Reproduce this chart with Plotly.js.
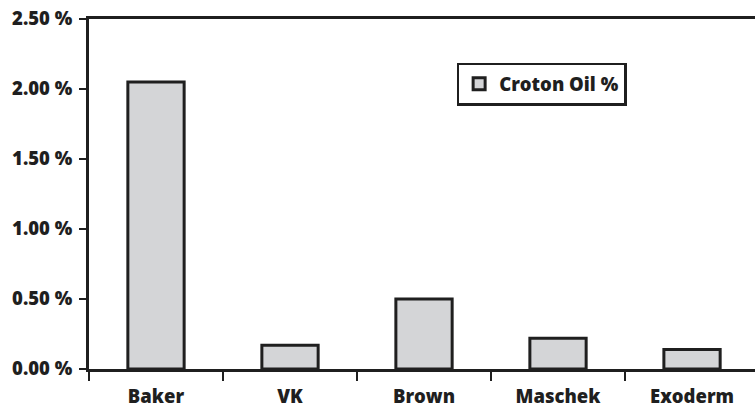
<!DOCTYPE html>
<html><head><meta charset="utf-8">
<script src="https://cdn.plot.ly/plotly-3.0.1.min.js"></script>
<style>html,body{margin:0;padding:0;overflow:hidden;background:#fff}</style>
</head><body>
<div id="chart" style="width:755px;height:409px"></div>
<script>
const categories = ["Baker", "VK", "Brown", "Maschek", "Exoderm"];
const crotonOil = [2.05, 0.17, 0.50, 0.22, 0.14];
const seriesName = "Croton Oil %";
const yTicks = [0, 0.5, 1.0, 1.5, 2.0, 2.5];
const yTickText = ["0.00 %", "0.50 %", "1.00 %", "1.50 %", "2.00 %", "2.50 %"];

const dark = "#1f1f1f";
const fontFam = "'Open Sans', sans-serif";
const f = {family: fontFam, size: 18.5, color: dark, weight: 800};

Plotly.newPlot("chart", [{
  type: "bar",
  x: categories,
  y: crotonOil,
  name: seriesName,
  width: 0.42,
  marker: {color: "#d4d5d7", line: {color: dark, width: 3}},
  showlegend: true
}], {
  width: 755, height: 409,
  margin: {l: 89, r: 0, t: 19, b: 40},
  paper_bgcolor: "#fff", plot_bgcolor: "#fff",
  font: f,
  xaxis: {
    type: "category",
    range: [-0.5, 4.47],
    tickson: "boundaries",
    ticks: "outside", ticklen: 9, tickwidth: 2.5, tickcolor: dark,
    showline: true, linewidth: 3, linecolor: dark, mirror: true,
    showgrid: false, zeroline: false,
    tickfont: f,
    ticklabelstandoff: 9
  },
  yaxis: {
    range: [0, 2.5],
    tickmode: "array",
    tickvals: yTicks,
    ticktext: yTickText,
    ticks: "outside", ticklen: 7, tickwidth: 2.5, tickcolor: dark,
    showline: true, linewidth: 3, linecolor: dark,
    showgrid: false, zeroline: false,
    tickfont: f,
    ticklabelstandoff: 3
  },
  legend: {
    x: 0.552, y: 0.875, xanchor: "left", yanchor: "top",
    bordercolor: dark, borderwidth: 2.5, bgcolor: "#fff",
    font: f
  }
}, {staticPlot: true});
</script>
</body></html>
